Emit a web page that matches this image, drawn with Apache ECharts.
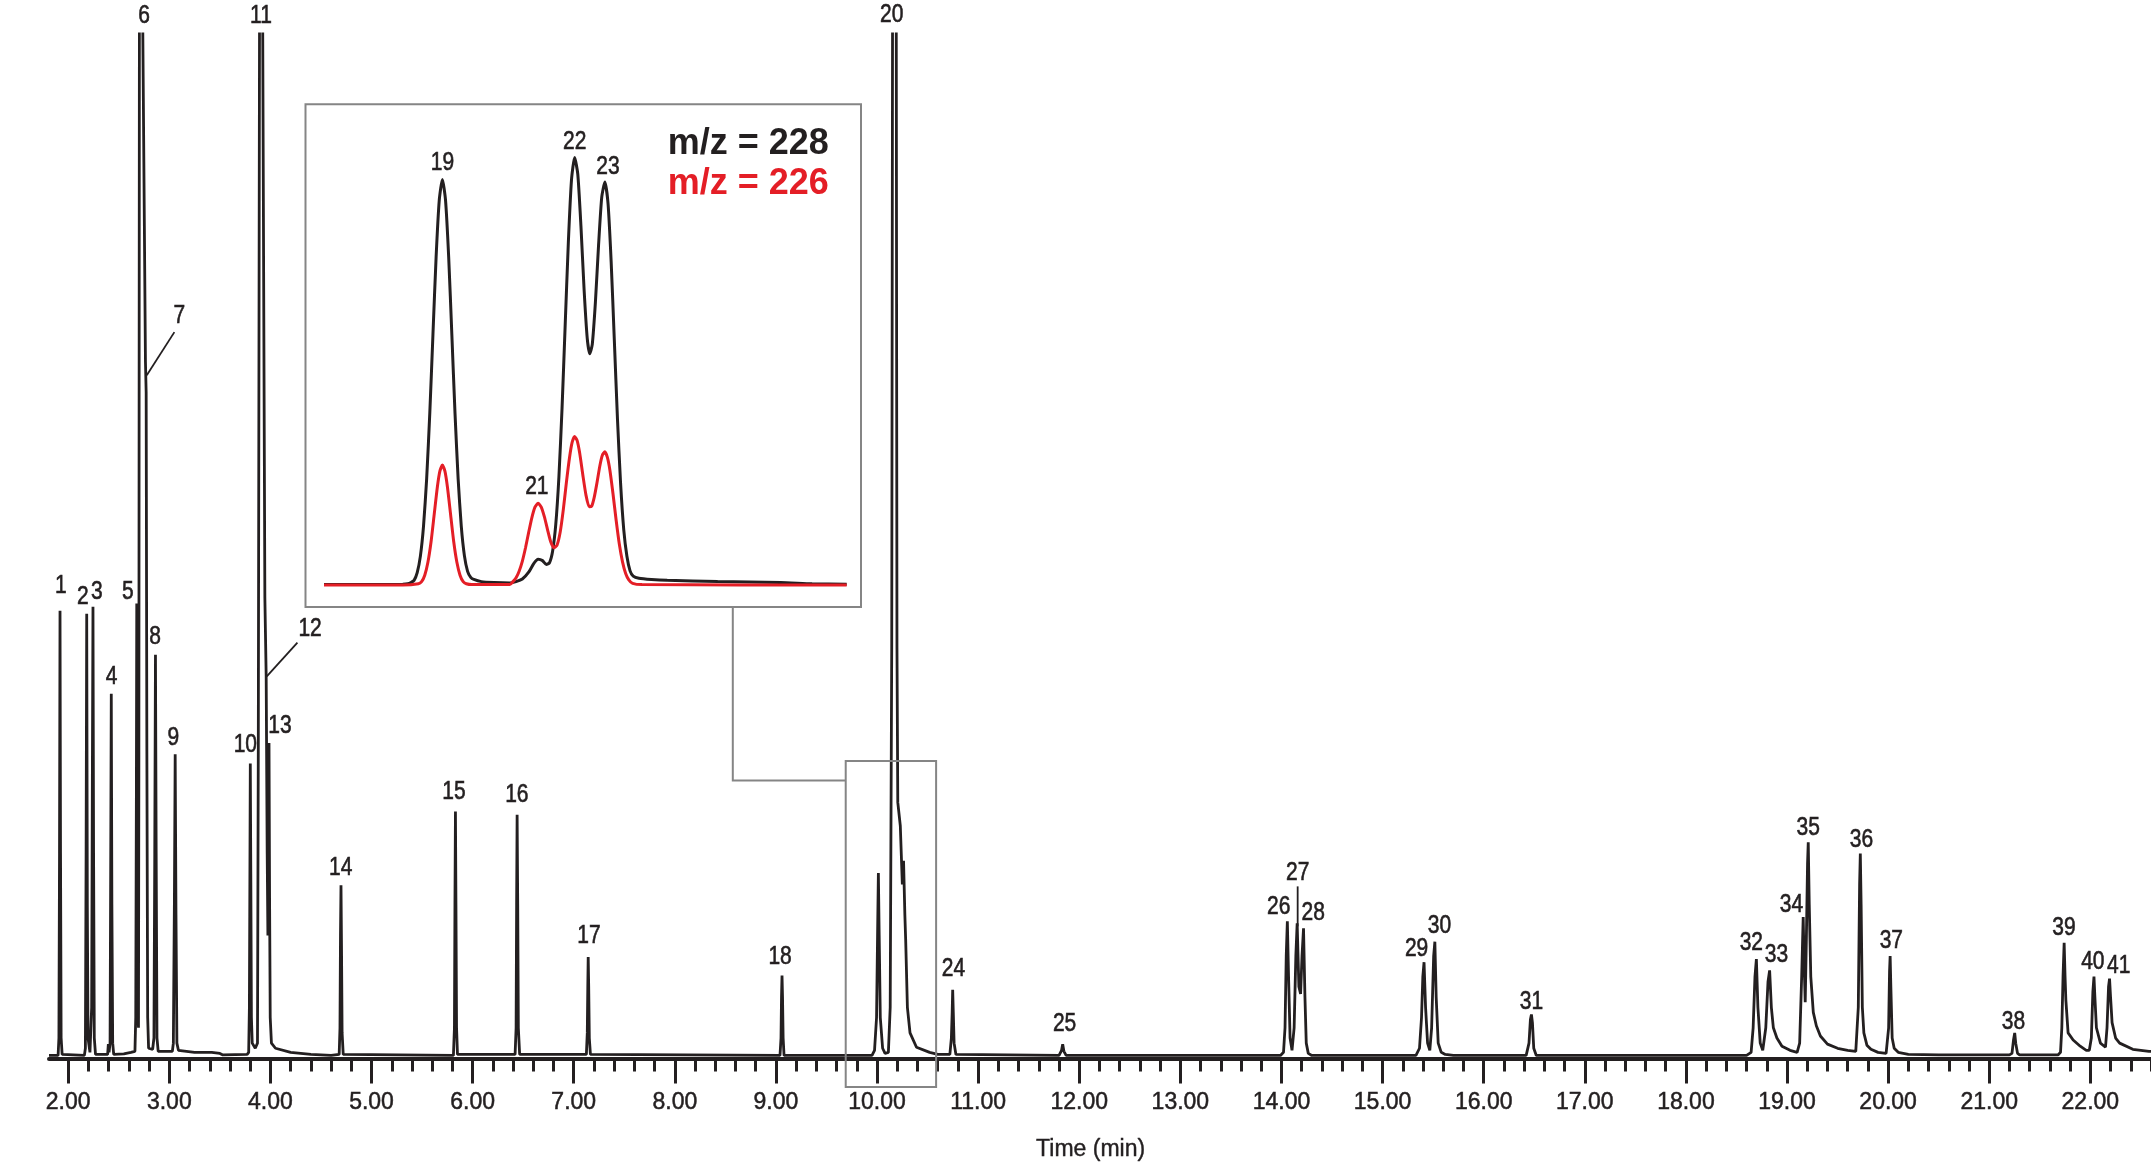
<!DOCTYPE html>
<html><head><meta charset="utf-8">
<script src="https://cdn.jsdelivr.net/npm/echarts@6/dist/echarts.min.js"></script>
<style>html,body{margin:0;padding:0;background:#fff}#c{width:2151px;height:1172px}</style>
</head><body><div id="c"></div>
<script>
// ---------- DATA ----------
// Main chromatogram trace: [time (min), relative intensity (% of plotted full scale)]
const mainTrace = [
[1.81,0.3],[1.90,0.3],[1.908,2],[1.914,20],[1.919,43.7],[1.924,20],[1.930,2],[1.94,0.4],
[2.16,0.3],[2.170,1],[2.177,20],[2.183,43.4],[2.189,15],[2.196,2],[2.215,0.6],[2.232,5],[2.239,28],[2.245,44.1],[2.251,20],[2.258,2],[2.27,0.4],
[2.39,0.4],[2.397,1.4],[2.404,0.6],[2.414,1.5],[2.420,18],[2.426,35.6],[2.432,15],[2.440,1.5],[2.45,0.4],
[2.55,0.45],[2.62,0.6],[2.660,0.7],[2.668,4],[2.674,25],[2.678,44.4],[2.683,25],[2.689,5],[2.695,3],
[2.699,30],[2.704,100],[2.706,170],[2.736,170],[2.738,100],[2.764,68],[2.771,65],[2.778,30],[2.786,4],[2.795,1],[2.835,0.9],
[2.848,2],[2.856,20],[2.863,39.4],[2.870,20],[2.878,2],[2.89,0.7],[3.03,0.7],
[3.040,1.5],[3.050,15],[3.058,29.7],[3.066,14],[3.075,1.5],[3.09,0.8],[3.25,0.6],[3.42,0.6],[3.50,0.5],[3.53,0.35],[3.77,0.4],
[3.785,0.6],[3.792,5],[3.797,18],[3.801,28.8],[3.806,18],[3.812,4],[3.820,1.5],[3.850,1],[3.872,1.5],
[3.880,30],[3.892,100],[3.894,170],[3.922,170],[3.924,100],[3.945,45],[3.958,37.3],[3.968,20],[3.975,12],[3.981,25],[3.986,30.8],[3.992,15],[3.998,4],[4.010,1.5],[4.05,1],[4.20,0.6],[4.40,0.4],[4.60,0.3],
[4.680,0.4],[4.688,3],[4.693,12],[4.698,16.9],[4.703,11],[4.709,2.5],[4.72,0.4],
[5.81,0.3],[5.820,3],[5.825,15],[5.830,24.1],[5.835,15],[5.841,3],[5.85,0.4],
[6.42,0.4],[6.430,3],[6.435,15],[6.440,23.8],[6.446,15],[6.452,3],[6.465,0.4],
[7.125,0.4],[7.134,2.5],[7.139,7],[7.143,9.9],[7.148,7],[7.154,2],[7.165,0.4],
[9.04,0.3],[9.050,2],[9.055,6],[9.060,8.1],[9.065,6],[9.071,2],[9.08,0.3],
[9.95,0.3],[9.975,0.8],[9.995,4],[10.005,12],[10.013,18.1],[10.021,12],[10.032,4],[10.055,1],[10.079,0.5],[10.112,0.6],
[10.130,5],[10.145,40],[10.153,100],[10.155,170],[10.188,170],[10.190,100],[10.197,40],[10.205,25],[10.230,22.7],[10.250,17],[10.262,19.3],[10.275,14],[10.283,11.6],[10.300,5],[10.326,2.5],[10.39,1.1],[10.52,0.6],[10.60,0.4],
[10.72,0.4],[10.735,2],[10.743,4.5],[10.748,6.7],[10.754,4.5],[10.762,1.5],[10.78,0.4],
[11.80,0.3],[11.825,0.8],[11.836,1.4],[11.848,0.7],[11.87,0.3],
[13.99,0.3],[14.02,0.6],[14.035,3],[14.047,10],[14.058,13.4],[14.070,8],[14.085,2],[14.104,0.8],[14.125,3],[14.142,10],[14.155,13.2],[14.172,7],[14.189,6.3],[14.203,10],[14.218,12.7],[14.232,6],[14.245,1.5],[14.265,0.5],[14.30,0.3],
[15.33,0.3],[15.365,1],[15.385,4],[15.398,8],[15.410,9.4],[15.425,5],[15.445,1.5],[15.467,0.8],[15.485,3],[15.505,10],[15.517,11.4],[15.530,6],[15.55,1.5],[15.58,0.6],[15.62,0.4],[15.70,0.3],
[16.42,0.3],[16.448,1.5],[16.462,3.8],[16.472,4.3],[16.482,3.5],[16.495,1],[16.52,0.3],
[18.60,0.3],[18.645,0.6],[18.665,3],[18.683,8],[18.697,9.7],[18.712,5],[18.735,1.5],[18.760,0.8],[18.790,3],[18.812,7.5],[18.828,8.6],[18.845,5],[18.865,3],[18.90,2],[18.95,1.2],[19.03,0.8],[19.10,0.6],
[19.125,1.5],[19.145,8],[19.160,13.8],[19.170,9],[19.180,5.5],[19.192,12],[19.203,19],[19.210,21.1],[19.220,15],[19.235,8],[19.26,4.5],[19.29,3.2],[19.33,2.2],[19.40,1.4],[19.50,1.0],[19.60,0.8],[19.68,0.7],
[19.69,0.8],[19.705,5],[19.718,17],[19.725,20.0],[19.733,15],[19.745,5],[19.76,2.5],[19.79,1.3],[19.83,0.9],[19.90,0.6],[19.98,0.5],
[20.005,3],[20.014,8.5],[20.020,10.0],[20.027,7],[20.040,2],[20.06,1],[20.10,0.6],[20.20,0.4],[20.50,0.35],[21.20,0.35],
[21.225,0.5],[21.240,1.8],[21.252,2.5],[21.262,1.5],[21.280,0.5],[21.30,0.35],
[21.68,0.35],[21.705,0.6],[21.718,3],[21.730,8],[21.741,11.3],[21.750,8],[21.758,5.7],[21.78,2.5],[21.83,1.8],[21.90,1.2],[21.96,0.8],
[21.99,0.8],[22.010,2],[22.025,6.5],[22.036,8.0],[22.045,6],[22.06,3],[22.10,1.5],[22.150,1.1],
[22.165,3],[22.180,7],[22.190,7.8],[22.200,6],[22.215,3.5],[22.25,2],[22.29,1.5],[22.42,0.9],[22.58,0.7],[22.60,0.7]
];

// Peak numbers and where their labels sit (time, intensity)
const peakIds    = ['1','2','3','4','5','6','7','8','9','10','11','12','13','14','15','16','17','18','20','24','25','26','27','28','29','30','31','32','33','34','35','36','37','38','39','40','41'];
const peakLabelT = [1.926,2.144,2.282,2.430,2.589,2.750,3.099,2.859,3.040,3.752,3.907,4.392,4.095,4.695,5.816,6.437,7.151,9.041,10.145,10.755,11.855,13.973,14.160,14.314,15.336,15.563,16.472,18.647,18.896,19.044,19.209,19.737,20.032,21.240,21.740,22.025,22.280];
const peakLabelY = [46.1,45.0,45.5,37.2,45.5,101.7,72.5,41.1,31.3,30.6,101.7,41.9,32.4,18.6,26.0,25.7,11.9,9.9,101.8,8.7,3.4,14.8,18.1,14.2,10.7,12.9,5.5,11.3,10.1,15.0,22.5,21.3,11.5,3.6,12.7,9.4,9.0];

// Leader lines for labels 7, 12, 27
const leaders = [
  [[2.777,66.7],[3.050,70.9]],
  [[3.964,37.3],[4.267,40.6]],
  [[14.160,16.8],[14.160,12.9]]
];

// Inset: extracted ion traces (time, % of largest m/z 228 peak)
const insetMz228 = [
[9.825,0.3],[9.900,0.3],[9.950,0.4],[9.958,0.5],[9.963,0.8],[9.968,1.3],[9.973,3.1],[9.978,6.9],[9.983,13.9],[9.988,25.0],[9.993,40.4],[9.998,58.7],[10.003,76.7],[10.008,90.0],[10.013,94.9],
[10.018,90.0],[10.023,76.7],[10.028,58.7],[10.033,40.4],[10.038,25.0],[10.043,13.9],[10.048,7.0],[10.053,3.4],[10.058,2.0],[10.063,1.5],[10.075,1.0],[10.095,0.8],[10.120,0.7],
[10.130,1.0],[10.140,1.6],[10.150,3.2],[10.158,5.2],[10.165,6.2],[10.172,5.9],[10.178,5.0],[10.183,5.4],[10.188,8.1],[10.193,14.3],[10.198,25.4],[10.203,41.5],[10.208,61.0],[10.213,80.2],[10.218,94.8],[10.223,100],
[10.228,96.1],[10.233,84.0],[10.238,69.2],[10.243,57.8],[10.247,54.2],[10.251,56.4],[10.256,66.3],[10.261,79.6],[10.266,90.7],[10.271,94.3],[10.276,89.3],[10.281,75.6],[10.286,57.4],[10.291,39.0],[10.296,23.8],[10.301,13.1],[10.306,6.9],[10.311,3.5],[10.316,2.3],
[10.325,1.8],[10.345,1.5],[10.370,1.3],[10.450,1.0],[10.550,0.8],[10.600,0.5],[10.655,0.4]
];
const insetMz226 = [
[9.825,0.2],[9.950,0.2],[9.975,0.5],[9.980,1.0],[9.985,2.5],[9.990,5.5],[9.995,10.3],[10.000,16.7],[10.005,23.1],[10.009,26.8],[10.013,28.2],[10.017,26.8],[10.021,23.1],[10.026,16.7],[10.031,10.3],[10.036,5.5],[10.041,2.5],[10.046,1.0],[10.051,0.5],[10.060,0.3],[10.120,0.3],
[10.125,1.0],[10.130,1.9],[10.135,3.5],[10.140,5.8],[10.145,8.9],[10.150,12.5],[10.155,15.9],[10.160,18.4],[10.165,19.3],[10.170,18.4],[10.175,16.1],[10.180,13.1],[10.185,10.3],[10.190,8.9],[10.195,9.5],[10.200,12.5],[10.205,17.8],[10.210,24.3],[10.215,30.1],[10.219,33.5],[10.223,34.9],
[10.227,33.9],[10.231,31.0],[10.236,25.9],[10.241,21.2],[10.246,18.5],[10.250,18.6],[10.254,20.6],[10.258,23.7],[10.263,28.0],[10.267,30.5],[10.271,31.3],[10.275,30.0],[10.279,27.0],[10.284,21.4],[10.289,15.2],[10.294,9.7],[10.299,5.6],[10.304,2.9],[10.309,1.4],[10.315,0.6],[10.330,0.3],[10.655,0.2]
];
const insetIds = ['19','21','22','23'];
const insetLabelT = [10.013,10.163,10.223,10.276];
const insetLabelY = [98.8,23.0,103.5,97.8];
const insetWindow = [9.69,10.584]; // region of the main trace that the inset enlarges
const legendTexts = ['m/z = 228','m/z = 226'];
const axisTitle = 'Time (min)';

// ---------- LAYOUT / STYLE ----------
const INK = '#231f20', RED = '#e41e26', GREY = '#858585';
const LABEL_FONT = "25px 'Liberation Sans',Arial,sans-serif";
const TICK_FONT = "'Liberation Sans',Arial,sans-serif";
const X0 = 49, XMIN = 1.81, XMAX = 22.6, W = 2151;
const PX_PER_MIN = (W - X0) / (XMAX - XMIN);
const TICK_MIN = 2, TICK_MAX = 23;
const tickLeft = X0 + (TICK_MIN - XMIN) * PX_PER_MIN;
const tickRight = W - (tickLeft + (TICK_MAX - TICK_MIN) * PX_PER_MIN);

const chart = echarts.init(document.getElementById('c'), null, {renderer: 'canvas'});

const leaderSeries = leaders.map(seg => ({
  type: 'line', xAxisIndex: 0, yAxisIndex: 0, data: seg, showSymbol: false, silent: true,
  clip: false, lineStyle: {color: INK, width: 1.8}, z: 4, animation: false
}));

chart.setOption({
  animation: false,
  backgroundColor: '#fff',
  grid: [
    {left: X0, right: 0, top: 34, bottom: 113.5, outerBoundsMode: 'none', containLabel: false},
    {left: tickLeft, right: tickRight, top: 34, bottom: 113.5, outerBoundsMode: 'none', containLabel: false},
    {left: 324, right: W - 846.7, top: 104, bottom: 1172 - 585.9, outerBoundsMode: 'none', containLabel: false}
  ],
  xAxis: [
    {gridIndex: 0, type: 'value', min: XMIN, max: XMAX,
     axisLine: {show: true, lineStyle: {color: INK, width: 4}},
     axisTick: {show: false}, axisLabel: {show: false}, splitLine: {show: false}},
    {gridIndex: 1, type: 'value', min: TICK_MIN, max: TICK_MAX, interval: 1,
     axisLine: {show: false},
     axisTick: {show: true, length: 25, lineStyle: {color: INK, width: 3}},
     minorTick: {show: true, splitNumber: 5, length: 13, lineStyle: {color: INK, width: 3}},
     axisLabel: {show: true, margin: 33, color: INK, fontFamily: TICK_FONT, fontSize: 23,
                 textBorderColor: INK, textBorderWidth: 0.5,
                 showMinLabel: true, showMaxLabel: true, hideOverlap: false,
                 formatter: v => v.toFixed(2)},
     splitLine: {show: false}},
    {gridIndex: 2, type: 'value', min: 9.825, max: 10.655, show: false}
  ],
  yAxis: [
    {gridIndex: 0, type: 'value', min: 0, max: 100, show: false},
    {gridIndex: 1, type: 'value', min: 0, max: 100, show: false},
    {gridIndex: 2, type: 'value', min: 0, max: 112.5, show: false}
  ],
  series: [
    {type: 'line', name: 'TIC', xAxisIndex: 0, yAxisIndex: 0, data: mainTrace, showSymbol: false,
     clip: true, silent: true, lineStyle: {color: INK, width: 2.8, join: 'bevel'}, z: 3},
    ...leaderSeries,
    {type: 'line', name: 'm/z 228', xAxisIndex: 2, yAxisIndex: 2, data: insetMz228, showSymbol: false,
     smooth: 0.2, silent: true, lineStyle: {color: INK, width: 3}, z: 3},
    {type: 'line', name: 'm/z 226', xAxisIndex: 2, yAxisIndex: 2, data: insetMz226, showSymbol: false,
     smooth: 0.2, silent: true, lineStyle: {color: RED, width: 3}, z: 4}
  ]
});

// peak-number labels, anchored in data coordinates, drawn as slightly condensed text
function labelGraphic(xAxisIndex, yAxisIndex, t, y, text) {
  const p = chart.convertToPixel({xAxisIndex, yAxisIndex}, [t, y]);
  return {type: 'text', x: p[0], y: p[1], scaleX: 0.84, z: 12, silent: true,
          style: {text, fill: INK, font: LABEL_FONT, textAlign: 'center', textVerticalAlign: 'middle',
                  stroke: INK, lineWidth: 0.6}};
}
const labelGraphics = peakIds.map((id, i) => labelGraphic(0, 0, peakLabelT[i], peakLabelY[i], id))
  .concat(insetIds.map((id, i) => labelGraphic(2, 2, insetLabelT[i], insetLabelY[i], id)));

// frames and connector, anchored to the inset window in data coordinates
const bx0 = chart.convertToPixel({xAxisIndex: 0}, insetWindow[0]);
const bx1 = chart.convertToPixel({xAxisIndex: 0}, insetWindow[1]);
const connX = 732.8, insetBottom = 607, connY = 780.5;
chart.setOption({
  graphic: labelGraphics.concat([
    {type: 'rect', shape: {x: 305.5, y: 104.2, width: 555.5, height: insetBottom - 104.2},
     style: {fill: null, stroke: GREY, lineWidth: 2}, z: 10},
    {type: 'rect', shape: {x: bx0, y: 761, width: bx1 - bx0, height: 326},
     style: {fill: null, stroke: GREY, lineWidth: 2}, z: 10},
    {type: 'polyline', shape: {points: [[connX, insetBottom], [connX, connY], [bx0, connY]]},
     style: {fill: null, stroke: GREY, lineWidth: 2}, z: 10},
    {type: 'text', x: 748.3, y: 144.1, z: 11,
     style: {text: legendTexts[0], fill: INK, font: "bold 36px 'Liberation Sans',Arial,sans-serif",
             textAlign: 'center', textVerticalAlign: 'middle'}},
    {type: 'text', x: 748.3, y: 184, z: 11,
     style: {text: legendTexts[1], fill: RED, font: "bold 36px 'Liberation Sans',Arial,sans-serif",
             textAlign: 'center', textVerticalAlign: 'middle'}},
    {type: 'text', x: 1090.6, y: 1150, z: 11,
     style: {text: axisTitle, fill: INK, font: "23px 'Liberation Sans',Arial,sans-serif",
             textAlign: 'center', textVerticalAlign: 'middle', stroke: INK, lineWidth: 0.4}}
  ])
});
</script></body></html>
